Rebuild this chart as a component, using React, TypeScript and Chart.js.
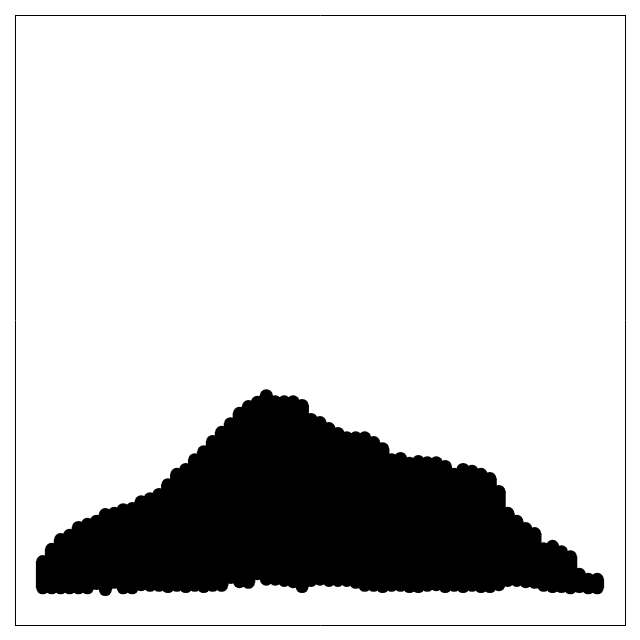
import { useEffect, useRef } from 'react';
import { Chart, registerables } from 'chart.js';

Chart.register(...registerables);

// column positions (one column of dots per x)
const columns = [
  0, 1, 2, 3, 4, 5, 6, 7, 8, 9, 10, 11, 12, 13, 14, 15, 16, 17, 18, 19, 20,
  21, 22, 23, 24, 25, 26, 27, 28, 29, 30, 31, 32, 33, 34, 35, 36, 37, 38, 39, 40,
  41, 42, 43, 44, 45, 46, 47, 48, 49, 50, 51, 52, 53, 54, 55, 56, 57, 58, 59, 60,
  61, 62,
];

// highest dot in each column
const topValues = [
  1.04, 1.24, 1.4, 1.47, 1.6, 1.65, 1.7, 1.81, 1.83, 1.89, 1.91, 2.02, 2.07, 2.14,
  2.3, 2.47, 2.55, 2.71, 2.84, 3.01, 3.16, 3.3, 3.47, 3.58, 3.65, 3.76, 3.66, 3.66,
  3.66, 3.6, 3.37, 3.32, 3.22, 3.14, 3.07, 3.07, 3.07, 2.99, 2.89, 2.71, 2.73, 2.65,
  2.68, 2.66, 2.66, 2.6, 2.47, 2.55, 2.52, 2.47, 2.4, 2.19, 1.83, 1.7, 1.58, 1.5,
  1.25, 1.29, 1.2, 1.12, 0.83, 0.75, 0.75,
];

// lowest dot in each column
const bottomValues = [
  0.61, 0.61, 0.61, 0.61, 0.61, 0.61, 0.68, 0.58, 0.7, 0.61, 0.61, 0.66, 0.65, 0.65,
  0.63, 0.65, 0.63, 0.65, 0.63, 0.65, 0.65, 0.78, 0.71, 0.7, 0.84, 0.75, 0.75, 0.73,
  0.71, 0.63, 0.73, 0.75, 0.73, 0.73, 0.73, 0.7, 0.65, 0.65, 0.63, 0.65, 0.65, 0.63,
  0.63, 0.65, 0.66, 0.63, 0.65, 0.63, 0.65, 0.63, 0.63, 0.66, 0.73, 0.73, 0.71, 0.7,
  0.65, 0.63, 0.63, 0.61, 0.63, 0.61, 0.61,
];

const DOT = 6.5;

export default function App() {
  const chartRef = useRef<HTMLCanvasElement | null>(null);

  useEffect(() => {
    if (!chartRef.current) return;
    const ctx = chartRef.current.getContext('2d');
    if (!ctx) return;

    const span = columns[columns.length - 1] - columns[0];
    const pad = span * 0.05;

    const frame = {
      display: true,
      offset: false,
      grid: { display: false, drawTicks: false },
      ticks: { display: false },
      border: { display: true, color: '#000', width: 1 },
    };

    const chart = new Chart(ctx, {
      type: 'bar',
      data: {
        datasets: [
          {
            type: 'bar',
            data: columns.map((x, i) => ({ x, y: [bottomValues[i], topValues[i]] })),
            backgroundColor: '#000',
            borderWidth: 0,
            barThickness: DOT * 2,
          },
          {
            type: 'scatter',
            data: columns.map((x, i) => ({ x, y: topValues[i] })),
            backgroundColor: '#000',
            borderWidth: 0,
            pointRadius: DOT,
            pointHoverRadius: DOT,
          },
          {
            type: 'scatter',
            data: columns.map((x, i) => ({ x, y: bottomValues[i] })),
            backgroundColor: '#000',
            borderWidth: 0,
            pointRadius: DOT,
            pointHoverRadius: DOT,
          },
        ] as any,
      },
      options: {
        animation: false,
        responsive: true,
        maintainAspectRatio: false,
        layout: { padding: 15, autoPadding: false },
        plugins: {
          legend: { display: false },
          tooltip: { enabled: false },
        },
        scales: {
          x: { ...frame, type: 'linear', position: 'bottom', min: columns[0] - pad, max: columns[columns.length - 1] + pad },
          y: { ...frame, type: 'linear', position: 'left', min: 0, max: 10 },
          x2: { ...frame, type: 'linear', position: 'top', min: 0, max: 1 },
          y2: { ...frame, type: 'linear', position: 'right', min: 0, max: 1 },
        },
      },
    });

    return () => chart.destroy();
  }, []);

  return (
    <div style={{ position: 'absolute', left: 0, top: 0, width: 640, height: 640 }}>
      <canvas ref={chartRef}></canvas>
    </div>
  );
}
